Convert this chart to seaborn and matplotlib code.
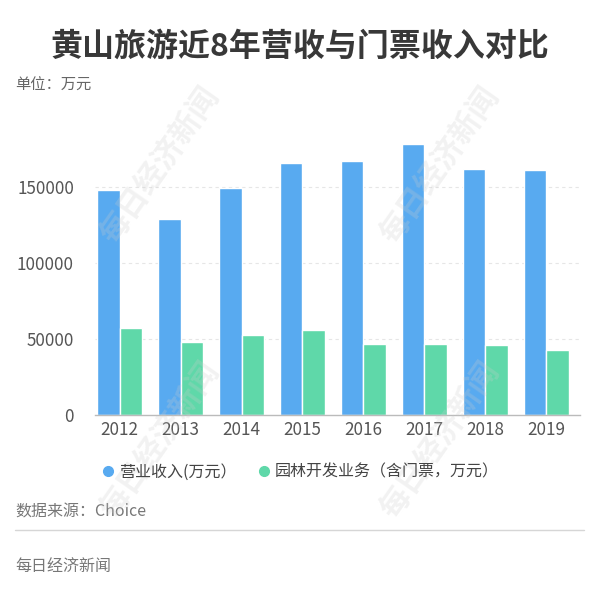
import pandas as pd
import matplotlib.pyplot as plt
import seaborn as sns
from matplotlib.lines import Line2D

# 数据（万元）
years = ['2012', '2013', '2014', '2015', '2016', '2017', '2018', '2019']
revenue = [148000, 129000, 149000, 165800, 166900, 177800, 161900, 161000]
park_income = [57000, 47800, 52400, 55700, 46500, 46600, 46100, 42600]
series_names = ['营业收入(万元）', '园林开发业务（含门票，万元）']
colors = ['#58aaf0', '#5fd8a9']

df = pd.DataFrame({
    'year': years * 2,
    'value': revenue + park_income,
    'series': [series_names[0]] * len(years) + [series_names[1]] * len(years),
})

sns.set_theme(style='white')
plt.rcParams['font.family'] = ['Noto Sans CJK SC', 'DejaVu Sans']

fig = plt.figure(figsize=(6, 6.06), dpi=100)
ax = fig.add_axes([0.158, 0.315, 0.809, 0.465])

sns.barplot(data=df, x='year', y='value', hue='series', palette=colors,
            width=0.74, ax=ax, legend=False, saturation=1)

ax.set_ylim(0, 185000)
ax.set_xlim(-0.41, 7.56)
ax.set_yticks([0, 50000, 100000, 150000])
ax.set_yticklabels(['0', '50000', '100000', '150000'])
ax.set_xlabel('')
ax.set_ylabel('')
ax.tick_params(axis='both', length=0, labelsize=12.3, labelcolor='#555555')
ax.tick_params(axis='y', pad=15)
ax.tick_params(axis='x', pad=4)
for y in [50000, 100000, 150000]:
    ax.axhline(y, color='#e6e6e6', linestyle=(0, (3, 3)), linewidth=0.8, zorder=0)
for s in ['top', 'right', 'left']:
    ax.spines[s].set_visible(False)
ax.spines['bottom'].set_color('#bbbbbb')
ax.spines['bottom'].set_linewidth(1)

# 标题与注释
fig.text(0.5, 1 - 47 / 606, '黄山旅游近8年营收与门票收入对比', ha='center', va='center',
         fontsize=23, fontweight='bold', color='#383838')
fig.text(15 / 600, 1 - 85 / 606, '单位：万元', ha='left', va='center',
         fontsize=11, color='#666666')

handles = [Line2D([0], [0], marker='o', linestyle='', markersize=7,
                  markerfacecolor=c, markeredgecolor=c) for c in colors]
fig.legend(handles, series_names, loc='center', bbox_to_anchor=(0.5, 1 - 472 / 606),
           ncol=2, frameon=False, fontsize=11.5, handlelength=0.8, handletextpad=0.3,
           columnspacing=1.3, labelcolor='#444444')

fig.text(15 / 600, 1 - 512 / 606, '数据来源：Choice', ha='left', va='center',
         fontsize=11.5, color='#777777')
fig.add_artist(Line2D([15 / 600, 584 / 600], [1 - 530 / 606, 1 - 530 / 606],
                      color='#d6d6d6', linewidth=1))
fig.text(15 / 600, 1 - 566 / 606, '每日经济新闻', ha='left', va='center',
         fontsize=11.5, color='#777777')

# 水印
for (wx, wy) in [(160, 165), (440, 165), (160, 440), (440, 440)]:
    fig.text(wx / 600, 1 - wy / 606, '每日经济新闻', ha='center', va='center',
             fontsize=22, fontweight='bold', color='#cccccc', alpha=0.25,
             rotation=55)

fig.savefig('out.png', dpi=100)
